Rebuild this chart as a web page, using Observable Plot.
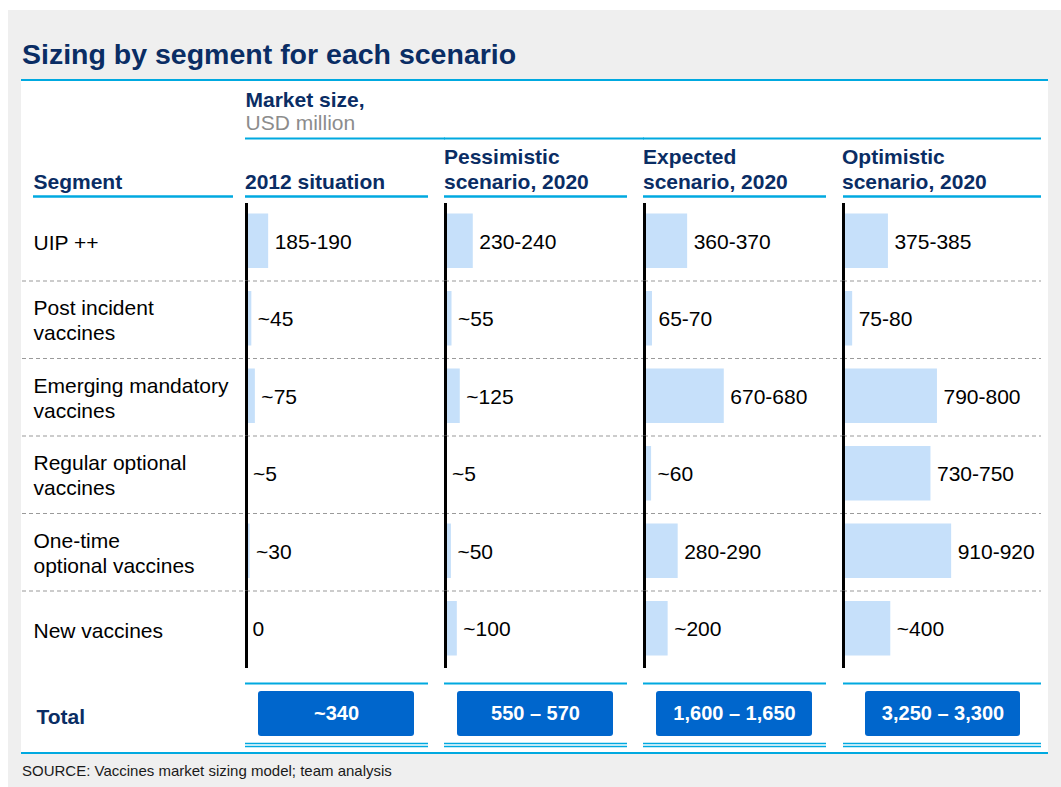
<!DOCTYPE html>
<html>
<head>
<meta charset="utf-8">
<script src="https://cdn.jsdelivr.net/npm/d3@7"></script>
<script src="https://cdn.jsdelivr.net/npm/@observablehq/plot@0.6"></script>
<style>
  body { margin: 0; background: #ffffff; font-family: "Liberation Sans", Arial, sans-serif; }
  #bg { position: absolute; left: 8px; top: 10px; width: 1053px; height: 777px; background: #efefef; }
  #title { position: absolute; left: 22px; top: 38px; font-size: 28.5px; line-height: 32px; font-weight: bold; color: #0a2d64; white-space: nowrap; }
  #panel { position: absolute; left: 21px; top: 79px; width: 1027px; height: 671px; background: #ffffff; border-top: 2px solid #00a9e0; border-bottom: 2px solid #00a9e0; }
  #panel svg { display: block; overflow: visible; }
  #source { position: absolute; left: 22px; top: 762px; font-size: 15px; line-height: 17px; color: #1a1a1a; white-space: nowrap; }
</style>
</head>
<body>
<div id="bg"></div>
<div id="title">Sizing by segment for each scenario</div>
<div id="panel"></div>
<div id="source">SOURCE: Vaccines market sizing model; team analysis</div>
<script>
// ---- data ----
const segments = [
  "UIP ++",
  "Post incident\nvaccines",
  "Emerging mandatory\nvaccines",
  "Regular optional\nvaccines",
  "One-time\noptional vaccines",
  "New vaccines"
];
const scenarios = [
  "2012 situation",
  "Pessimistic\nscenario, 2020",
  "Expected\nscenario, 2020",
  "Optimistic\nscenario, 2020"
];
const values2012 = [187.5, 45, 75, 5, 30, 0];
const valuesPessimistic = [235, 55, 125, 5, 50, 100];
const valuesExpected = [365, 67.5, 675, 60, 285, 200];
const valuesOptimistic = [380, 77.5, 795, 740, 915, 400];
const labels2012 = ["185-190", "~45", "~75", "~5", "~30", "0"];
const labelsPessimistic = ["230-240", "~55", "~125", "~5", "~50", "~100"];
const labelsExpected = ["360-370", "65-70", "670-680", "~60", "280-290", "~200"];
const labelsOptimistic = ["375-385", "75-80", "790-800", "730-750", "910-920", "~400"];
const totals = ["~340", "550 – 570", "1,600 – 1,650", "3,250 – 3,300"];
const totalLabel = "Total";
const segmentHeader = "Segment";
const unitTitle = "Market size,";
const unitSubtitle = "USD million";

// ---- derived tables ----
const valueSets = [values2012, valuesPessimistic, valuesExpected, valuesOptimistic];
const labelSets = [labels2012, labelsPessimistic, labelsExpected, labelsOptimistic];
const rows = scenarios.flatMap((s, j) => segments.map((seg, i) => ({
  scenario: s, segment: seg, value: valueSets[j][i], label: labelSets[j][i]
})));
const totalRows = scenarios.map((s, j) => ({scenario: s, label: totals[j]}));
const sepRows = scenarios.flatMap(s => segments.slice(1).map(seg => ({scenario: s, segment: seg})));
const first = scenarios[0];
const last = scenarios[scenarios.length - 1];
const mid = scenarios.slice(0, scenarios.length - 1);

const NAVY = "#0a2d64";
const BLUE = "#00a9e0";
const BAR = "#c6e0fa";
const BOX = "#0066cc";
const FONT = "'Liberation Sans', Arial, sans-serif";
const FS = 21;

const W = 1027, H = 671;
const top0 = 122, bottomEdge = 664.5;
const step = (bottomEdge - top0) / (segments.length + 1);
const half = step / 2;
const firstRow = () => segments[0];
const totalRow = () => totalLabel;
const LH = 25 / FS;

const chart = Plot.plot({
  width: W,
  height: H,
  marginLeft: 225,
  marginRight: 23,
  marginTop: top0,
  marginBottom: H - bottomEdge,
  fx: {domain: scenarios, paddingInner: 17 / 199, paddingOuter: 0, axis: null, round: false, label: null},
  x: {domain: [0, 1540], axis: null},
  y: {domain: [...segments, totalLabel], padding: 0, axis: null, round: false, label: null},
  style: {fontFamily: FONT, fontSize: FS + "px", background: "transparent", overflow: "visible", color: "#000"},
  marks: [
    // dashed row separators
    Plot.ruleY(sepRows.filter(d => d.scenario === first), {y: "segment", fx: "scenario", dy: -half, stroke: "#9a9a9a", strokeWidth: 1.2, strokeDasharray: "4,3", insetLeft: -224, insetRight: -17}),
    Plot.ruleY(sepRows.filter(d => d.scenario !== first && d.scenario !== last), {y: "segment", fx: "scenario", dy: -half, stroke: "#9a9a9a", strokeWidth: 1.2, strokeDasharray: "4,3", insetRight: -17}),
    Plot.ruleY(sepRows.filter(d => d.scenario === last), {y: "segment", fx: "scenario", dy: -half, stroke: "#9a9a9a", strokeWidth: 1.2, strokeDasharray: "4,3", insetRight: -16}),

    // bars
    Plot.barX(rows, {x: "value", y: "segment", fx: "scenario", fill: BAR, insetTop: 10.5, insetBottom: 12.5}),
    // baseline black axis lines
    Plot.tickX(rows, {x: () => 0, y: "segment", fx: "scenario", stroke: "#000", strokeWidth: 3}),
    // value labels
    Plot.text(rows, {x: "value", y: "segment", fx: "scenario", text: "label", textAnchor: "start", dx: 6, fontSize: FS, fill: "#000"}),

    // segment labels
    Plot.text(segments, {y: d => d, fx: () => first, text: d => d, frameAnchor: "left", textAnchor: "start", dx: -213, lineHeight: LH, fontSize: FS, fill: "#000"}),

    // headers
    Plot.text([unitTitle], {fx: () => first, text: d => d, frameAnchor: "top-left", textAnchor: "start", lineAnchor: "bottom", dx: -1, dy: -97, fontSize: FS, fontWeight: "bold", fill: NAVY}),
    Plot.text([unitSubtitle], {fx: () => first, text: d => d, frameAnchor: "top-left", textAnchor: "start", lineAnchor: "bottom", dx: -1, dy: -74, fontSize: FS, fill: "#8c8c8c"}),
    Plot.ruleY(mid, {fx: d => d, y: firstRow, dy: 57 - (top0 + half), stroke: BLUE, strokeWidth: 2.2, insetLeft: -1, insetRight: -17}),
    Plot.ruleY([last], {fx: d => d, y: firstRow, dy: 57 - (top0 + half), stroke: BLUE, strokeWidth: 2.2, insetRight: -16}),
    Plot.text(scenarios, {fx: d => d, text: d => d, frameAnchor: "top-left", textAnchor: "start", lineAnchor: "bottom", dx: -1.5, dy: -15, lineHeight: LH, fontSize: FS, fontWeight: "bold", fill: NAVY}),
    Plot.text([segmentHeader], {fx: () => first, text: d => d, frameAnchor: "top-left", textAnchor: "start", lineAnchor: "bottom", dx: -213, dy: -15, fontSize: FS, fontWeight: "bold", fill: NAVY}),
    Plot.ruleY(mid, {fx: d => d, y: firstRow, dy: 115 - (top0 + half), stroke: BLUE, strokeWidth: 2.6, insetLeft: -1}),
    Plot.ruleY([last], {fx: d => d, y: firstRow, dy: 115 - (top0 + half), stroke: BLUE, strokeWidth: 2.6, insetRight: -16}),
    Plot.ruleY([segmentHeader], {fx: () => first, y: firstRow, dy: 115 - (top0 + half), stroke: BLUE, strokeWidth: 2.6, insetLeft: -213, insetRight: 195}),

    // total row
    Plot.ruleY(mid, {fx: d => d, y: totalRow, dy: -23.75, stroke: BLUE, strokeWidth: 2, insetLeft: -1}),
    Plot.ruleY([last], {fx: d => d, y: totalRow, dy: -23.75, stroke: BLUE, strokeWidth: 2, insetRight: -16}),
    Plot.ruleY(mid, {fx: d => d, y: totalRow, dy: 36.25, stroke: BLUE, strokeWidth: 1.3, insetLeft: -1}),
    Plot.ruleY(mid, {fx: d => d, y: totalRow, dy: 39.25, stroke: BLUE, strokeWidth: 1.3, insetLeft: -1}),
    Plot.ruleY([last], {fx: d => d, y: totalRow, dy: 36.25, stroke: BLUE, strokeWidth: 1.3, insetRight: -16}),
    Plot.ruleY([last], {fx: d => d, y: totalRow, dy: 39.25, stroke: BLUE, strokeWidth: 1.3, insetRight: -16}),
    Plot.cell(totalRows.filter(d => d.scenario !== last), {y: totalRow, fx: "scenario", fill: BOX, insetLeft: 12, insetRight: 14, insetTop: 23, insetBottom: 9.5, rx: 3}),
    Plot.cell(totalRows.filter(d => d.scenario === last), {y: totalRow, fx: "scenario", fill: BOX, insetLeft: 22, insetRight: 5, insetTop: 23, insetBottom: 9.5, rx: 3}),
    Plot.text(totalRows.filter(d => d.scenario !== last), {y: totalRow, fx: "scenario", text: "label", fill: "#ffffff", fontWeight: "bold", fontSize: 20, dx: -1, dy: 6.75}),
    Plot.text(totalRows.filter(d => d.scenario === last), {y: totalRow, fx: "scenario", text: "label", fill: "#ffffff", fontWeight: "bold", fontSize: 20, dx: 8.5, dy: 6.75}),
    Plot.text([totalLabel], {y: d => d, fx: () => first, text: d => d, frameAnchor: "left", textAnchor: "start", dx: -210, dy: 10, fontSize: FS, fontWeight: "bold", fill: NAVY})
  ]
});
document.getElementById("panel").appendChild(chart);
</script>
</body>
</html>
